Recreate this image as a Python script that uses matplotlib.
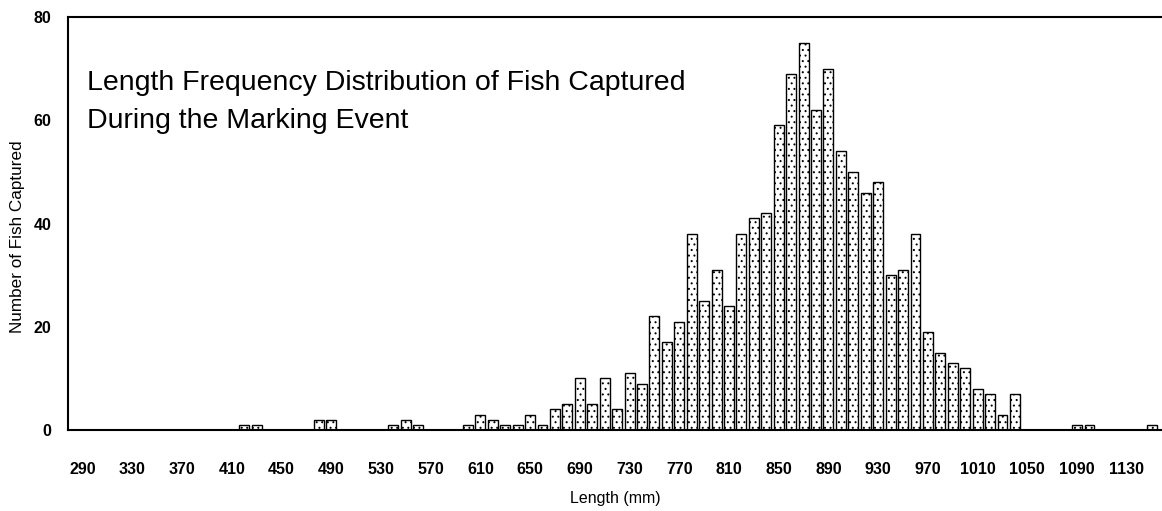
import matplotlib
matplotlib.use("Agg")
import matplotlib.pyplot as plt

plt.rcParams["font.family"] = ["Liberation Sans", "DejaVu Sans"]
plt.rcParams["hatch.linewidth"] = 0.7

# 10 mm length bins (bin label) and fish counts per bin
lengths = list(range(290, 1160, 10))
counts_by_length = {
    420: 1, 430: 1,
    480: 2, 490: 2,
    540: 1, 550: 2, 560: 1,
    600: 1, 610: 3, 620: 2, 630: 1, 640: 1, 650: 3, 660: 1, 670: 4, 680: 5,
    690: 10, 700: 5, 710: 10, 720: 4, 730: 11, 740: 9, 750: 22, 760: 17,
    770: 21, 780: 38, 790: 25, 800: 31, 810: 24, 820: 38, 830: 41, 840: 42,
    850: 59, 860: 69, 870: 75, 880: 62, 890: 70, 900: 54, 910: 50, 920: 46,
    930: 48, 940: 30, 950: 31, 960: 38, 970: 19, 980: 15, 990: 13, 1000: 12,
    1010: 8, 1020: 7, 1030: 3, 1040: 7,
    1090: 1, 1100: 1,
    1150: 1,
}
counts = [counts_by_length.get(l, 0) for l in lengths]
xtick_labels = list(range(290, 1131, 40))
ytick_labels = [0, 20, 40, 60, 80]

W, H = 1162, 511
fig = plt.figure(figsize=(W / 100, H / 100), dpi=100)
ax = fig.add_axes([68 / W, 81 / H, 1094 / W, 413 / H])

ax.bar(lengths, counts, width=8, color="white", edgecolor="black",
       linewidth=1.0, hatch="...")

ax.set_xlim(278.3, 1158.3)
ax.set_ylim(0, 80)
ax.set_xticks(xtick_labels)
ax.set_yticks(ytick_labels)
ax.tick_params(axis="both", length=0)
ax.tick_params(axis="x", pad=23)
ax.tick_params(axis="y", pad=12)
for lab in ax.get_xticklabels() + ax.get_yticklabels():
    lab.set_fontweight("bold")
    lab.set_fontsize(11.5)

ax.spines["right"].set_visible(False)
for s in ("left", "top", "bottom"):
    ax.spines[s].set_linewidth(1.5)

ax.set_xlabel("Length (mm)", fontsize=11.5, labelpad=10)
fig.text(18 / W, 1 - 237 / H, "Number of Fish Captured", rotation=90,
         ha="center", va="center", fontsize=12.3)

ax.text(0.0174, 0.823, "Length Frequency Distribution of Fish Captured",
        transform=ax.transAxes, fontsize=20.5, va="baseline", ha="left")
ax.text(0.0174, 0.731, "During the Marking Event",
        transform=ax.transAxes, fontsize=20.5, va="baseline", ha="left")

fig.savefig("out.png", dpi=100)
